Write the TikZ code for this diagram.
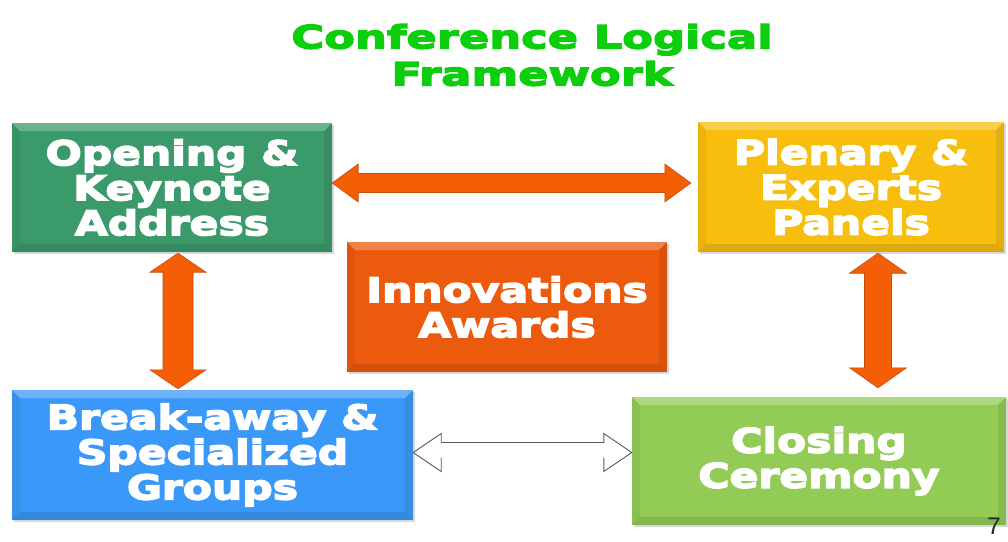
\documentclass[tikz,border=0pt]{standalone}
\usepackage{fontspec}
\usetikzlibrary{shadows,calc}
\newfontfamily\boxfont{DejaVu Sans Bold}[FakeStretch=1.25,FakeBold=4.5]
\newfontfamily\titlefont{DejaVu Sans Bold}[FakeStretch=1.4,FakeBold=4.5]
\newfontfamily\pagefont{Liberation Sans}
\definecolor{tgreen}{HTML}{0CCE0C}
\definecolor{bgreen}{HTML}{3A9A6A}
\definecolor{byellow}{HTML}{F7BE0E}
\definecolor{borange}{HTML}{EC5A0E}
\definecolor{bblue}{HTML}{3A99F8}
\definecolor{blgreen}{HTML}{92CB55}
\definecolor{aorange}{HTML}{F45E07}
\definecolor{aedge}{HTML}{C84A06}
\newcommand\hdarrow[6]{%
  \path[#6] let \p1=#1, \p2=#2 in
    (\x1,\y1) -- (\x1+#5,\y1+#4) -- (\x1+#5,\y1+#3) -- (\x2-#5,\y1+#3) -- (\x2-#5,\y1+#4)
    -- (\x2,\y1) -- (\x2-#5,\y1-#4) -- (\x2-#5,\y1-#3) -- (\x1+#5,\y1-#3) -- (\x1+#5,\y1-#4) -- cycle;}
\newcommand\hopenarrow[6]{%
  \path[fill=white] let \p1=#1, \p2=#2 in
    (\x1,\y1) -- (\x1+#5,\y1+#4) -- (\x1+#5,\y1+#3) -- (\x2-#5,\y1+#3) -- (\x2-#5,\y1+#4)
    -- (\x2,\y1) -- (\x2-#5,\y1-#4) -- (\x2-#5,\y1-#3) -- (\x1+#5,\y1-#3) -- (\x1+#5,\y1-#4) -- cycle;
  \path[#6] let \p1=#1, \p2=#2 in
    (\x1+#5,\y1-#3+5pt) -- (\x1+#5,\y1-#4) -- (\x1,\y1) -- (\x1+#5,\y1+#4) -- (\x1+#5,\y1+#3) -- (\x2-#5,\y1+#3) -- (\x2-#5,\y1+#4)
    -- (\x2,\y1) -- (\x2-#5,\y1-#4) -- (\x2-#5,\y1-#3+5pt);}
\newcommand\vdarrow[6]{%
  \path[#6] let \p1=#1, \p2=#2 in
    (\x1,\y1) -- (\x1+#4,\y1-#5) -- (\x1+#3,\y1-#5) -- (\x1+#3,\y2+#5) -- (\x1+#4,\y2+#5)
    -- (\x1,\y2) -- (\x1-#4,\y2+#5) -- (\x1-#3,\y2+#5) -- (\x1-#3,\y1-#5) -- (\x1-#4,\y1-#5) -- cycle;}
\tikzset{
  bevel/.style={path picture={
    \fill[white,opacity=0.25] (path picture bounding box.north west) -- (path picture bounding box.north east)
      -- ([xshift=-8pt,yshift=-8pt]path picture bounding box.north east) -- ([xshift=8pt,yshift=-8pt]path picture bounding box.north west) -- cycle;
    \fill[black,opacity=0.05] (path picture bounding box.north west) -- ([xshift=8pt,yshift=-8pt]path picture bounding box.north west)
      -- ([xshift=8pt,yshift=8pt]path picture bounding box.south west) -- (path picture bounding box.south west) -- cycle;
    \fill[black,opacity=0.08] (path picture bounding box.north east) -- ([xshift=-8pt,yshift=-8pt]path picture bounding box.north east)
      -- ([xshift=-8pt,yshift=8pt]path picture bounding box.south east) -- (path picture bounding box.south east) -- cycle;
    \fill[black,opacity=0.10] (path picture bounding box.south west) -- ([xshift=8pt,yshift=8pt]path picture bounding box.south west)
      -- ([xshift=-8pt,yshift=8pt]path picture bounding box.south east) -- (path picture bounding box.south east) -- cycle;
  }},
  panel/.style={fill=#1, inner sep=0pt, text=white, align=center, bevel,
    drop shadow={opacity=0.3, shadow xshift=1.5pt, shadow yshift=-2pt},
    font=\boxfont\fontsize{34}{35}\selectfont},
  orangearrow/.style={fill=aorange, draw=aedge, line width=0.6pt, line join=miter},
  hollowarrow/.style={draw=black!65, line width=0.9pt},
  titletext/.style={text=tgreen, align=center, font=\titlefont\fontsize{32}{37}\selectfont},
}
\begin{document}
\begin{tikzpicture}[x=1pt,y=-1pt]
\useasboundingbox (0,0) rectangle (1008,541);
\fill[white] (0,0) rectangle (1008,541);

\node[titletext] (title) at (532,55) {Conference Logical\\Framework};

\node[panel=bgreen, minimum width=320pt, minimum height=129pt] (open) at (172,187.5) {Opening \&\\Keynote\\Address};
\node[panel=byellow, minimum width=306pt, minimum height=130pt] (plen) at (851,187) {Plenary \&\\Experts\\Panels};
\node[panel=borange, minimum width=320pt, minimum height=130pt] (innov) at (507,307) {Innovations\\Awards};
\node[panel=bblue, minimum width=401pt, minimum height=130pt] (brk) at (212.5,455) {Break-away \&\\Specialized\\Groups};
\node[panel=blgreen, minimum width=374pt, minimum height=128pt] (close) at (819,461) {Closing\\Ceremony};

\hdarrow{([yshift=4.5pt]open.east)}{([xshift=-7pt]plen.west)}{9.5pt}{19pt}{26pt}{orangearrow}
\vdarrow{([xshift=6pt,yshift=-1pt]open.south)}{([yshift=1pt]brk.north)}{15pt}{28pt}{19pt}{orangearrow}
\vdarrow{([xshift=27pt,yshift=-1pt]plen.south)}{([yshift=9pt]close.north)}{13.5pt}{28.5pt}{20pt}{orangearrow}
\hopenarrow{([yshift=2.5pt]brk.east)}{(close.west)}{10pt}{19pt}{28pt}{hollowarrow}

\node[anchor=north, font=\pagefont\fontsize{24}{24}\selectfont, text=black!85] (page) at (994,514) {7};
\end{tikzpicture}
\end{document}
